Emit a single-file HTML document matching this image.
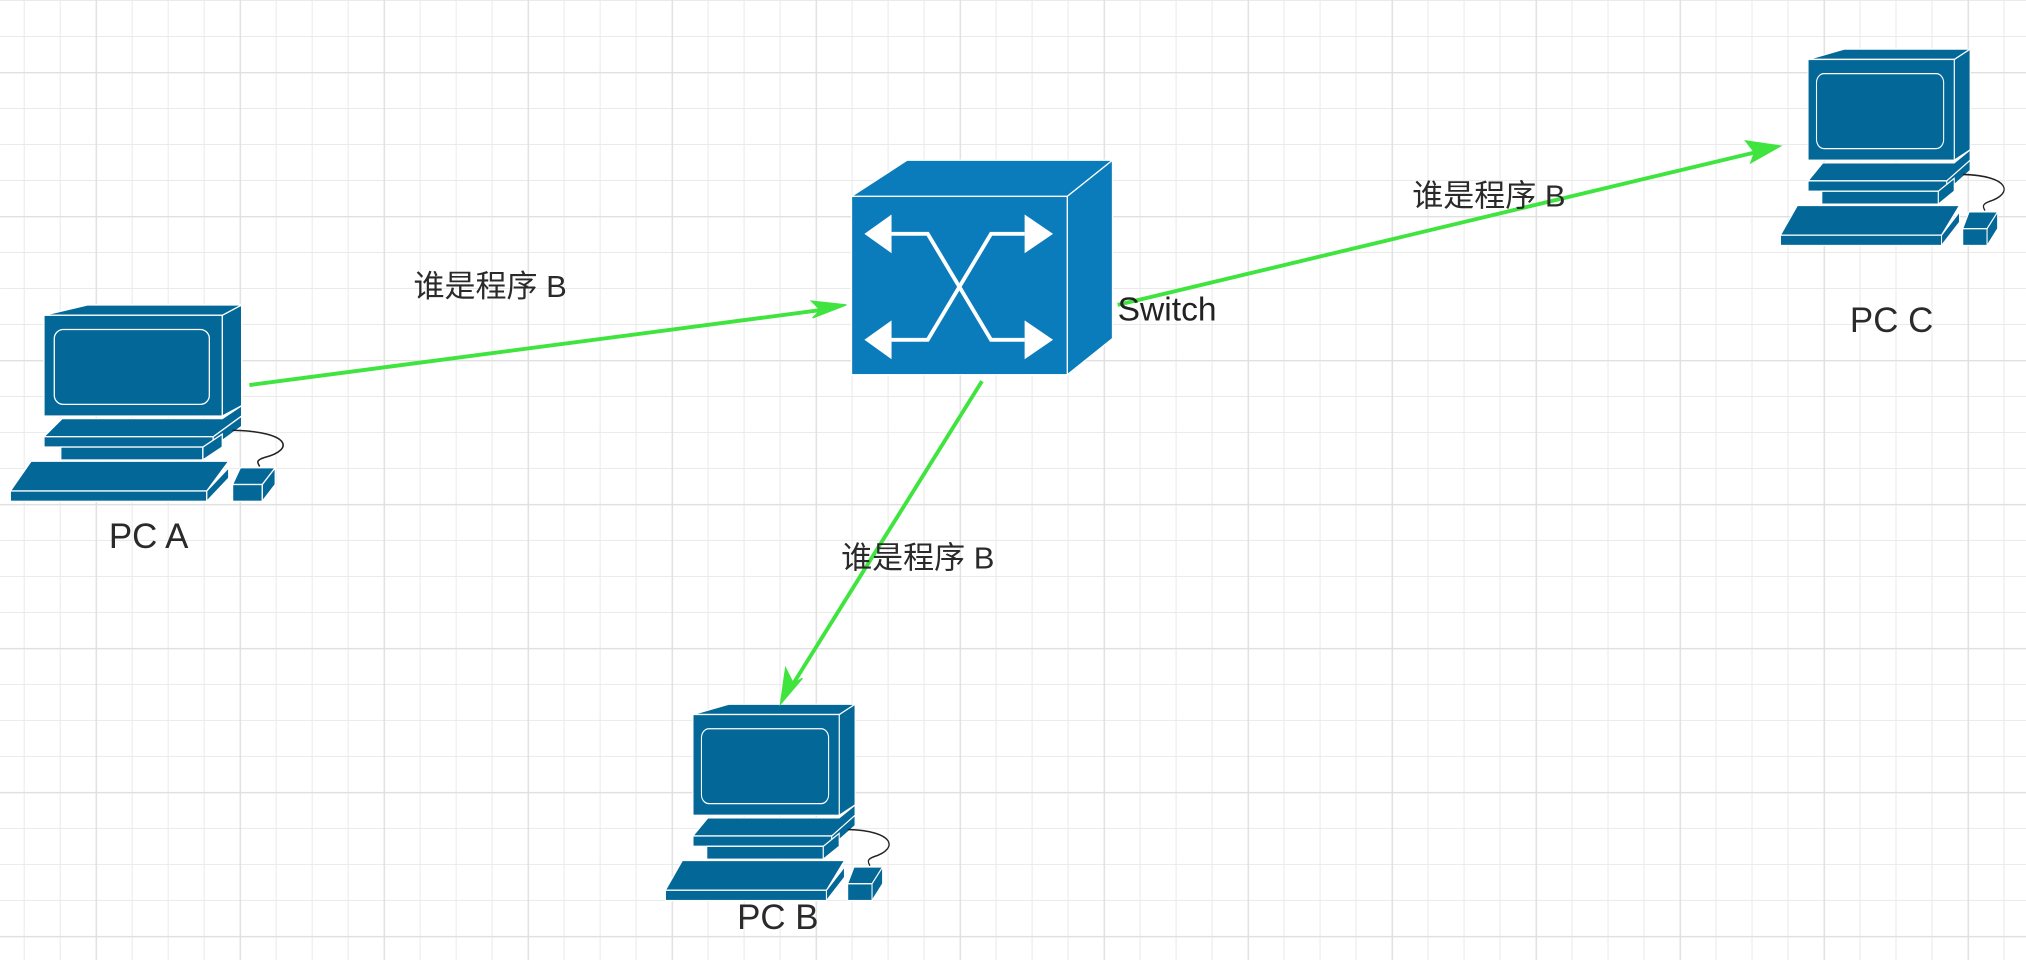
<!DOCTYPE html>
<html><head><meta charset="utf-8"><style>html,body{margin:0;padding:0;background:#fff;overflow:hidden}</style></head>
<body>
<svg width="2026" height="960" viewBox="0 0 1568 743" xmlns="http://www.w3.org/2000/svg">
<defs>
<pattern id="minor" x="18.3" y="0" width="27.86" height="27.86" patternUnits="userSpaceOnUse">
<path d="M0 0V27.86M0 0H27.86" stroke="#eaeaea" stroke-width="1.6" fill="none"/>
</pattern>
<pattern id="major" x="74" y="55.7" width="111.45" height="111.45" patternUnits="userSpaceOnUse">
<path d="M0 0V111.45M0 0H111.45" stroke="#e0e0e0" stroke-width="2.2" fill="none"/>
</pattern>
<g id="pc" stroke="#fff" stroke-width="1" fill="#036897">
<path d="M172 244L187 236V314L172 322Z"/>
<path d="M34 244L68 236H187L172 244Z"/>
<rect x="34" y="244" width="138" height="78"/>
<rect x="42" y="255" width="120" height="58" rx="7"/>
<path d="M34 338L48 324H172L187 314V322L165 338Z"/>
<rect x="34" y="338" width="131" height="8"/>
<path d="M165 338L187 322V330L165 346Z"/>
<rect x="47" y="346" width="110" height="10"/>
<path d="M157 346L172 336V346L157 356Z"/>
<path d="M8 380L24 357H177L160 380Z"/>
<rect x="8" y="380" width="152" height="8"/>
<path d="M160 380L177 362V370L160 388Z"/>
<path d="M180 375L186 362H213L203 375Z"/>
<rect x="180" y="375" width="23" height="13"/>
<path d="M203 375L213 362V375L203 388Z"/>
<path d="M180 333C225 334 228 348 205 354C198 356 199 358 201 361" fill="none" stroke="#222" stroke-width="1.2"/>
</g>
</defs>
<rect width="1568" height="743" fill="#fff"/>
<rect width="1568" height="743" fill="url(#minor)"/>
<rect width="1568" height="743" fill="url(#major)"/>

<use href="#pc"/>
<use href="#pc" transform="translate(515,545) scale(0.82,1) translate(-8,-236)"/>
<use href="#pc" transform="translate(1378,38) scale(0.82,1) translate(-8,-236)"/>

<g stroke="#fff" stroke-width="1" fill="#0a7cbb">
<path d="M659 152L702 124H861L826 152Z"/>
<path d="M826 152L861 124V262L826 290Z"/>
<rect x="659" y="152" width="167" height="138"/>
</g>
<g fill="#fff" stroke="#fff">
<path d="M690 181H718L767 263H793" fill="none" stroke-width="3"/>
<path d="M690 263H718L767 181H793" fill="none" stroke-width="3"/>
<path d="M669 181L690 166V196Z" stroke="none"/>
<path d="M669 263L690 248V278Z" stroke="none"/>
<path d="M815 181L793 166V196Z" stroke="none"/>
<path d="M815 263L793 248V278Z" stroke="none"/>
</g>

<g stroke="#3fe43f" stroke-width="3" fill="#3fe43f">
<line x1="193" y1="298" x2="635" y2="240"/>
<path d="M655 236L629 246L635 240L628 233Z" stroke-width="1"/>
<line x1="760" y1="295" x2="614" y2="529"/>
<path d="M604 545L608 517L614 529L621 525Z" stroke-width="1"/>
<line x1="865" y1="236" x2="1358" y2="118"/>
<path d="M1378 113L1355 126L1358 118L1351 109Z" stroke-width="1"/>
</g>

<g font-family="'Liberation Sans','Noto Sans CJK SC',sans-serif" fill="#2a2a2a">
<text x="320" y="230" font-size="24">谁是程序 B</text>
<text x="1093" y="160" font-size="24">谁是程序 B</text>
<text x="651" y="440" font-size="24">谁是程序 B</text>
<text x="865" y="248" font-size="26" fill="#222">Switch</text>
<text x="115" y="424" font-size="27" text-anchor="middle">PC A</text>
<text x="1464" y="257" font-size="27" text-anchor="middle">PC C</text>
<text x="602" y="719" font-size="27" text-anchor="middle">PC B</text>
</g>
</svg>
</body></html>
